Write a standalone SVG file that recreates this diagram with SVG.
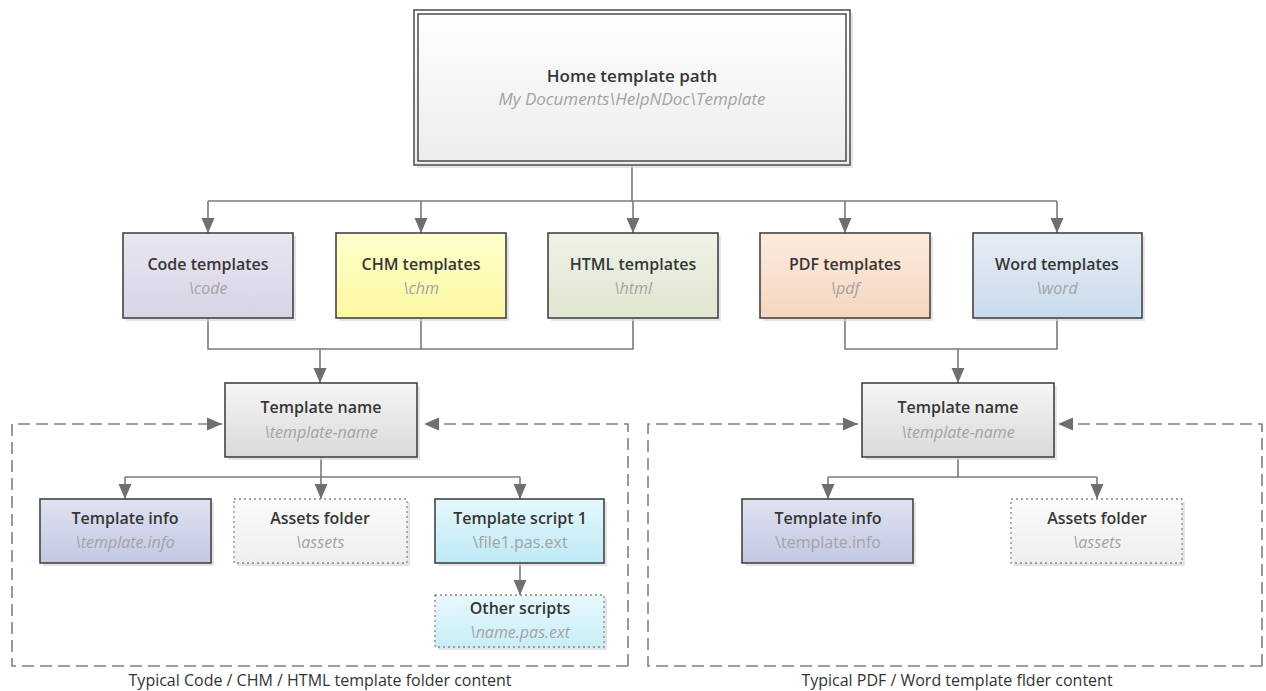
<svg xmlns="http://www.w3.org/2000/svg" width="1266" height="691" viewBox="0 0 1266 691">
<defs>
<linearGradient id="gHome" x1="0" y1="0" x2="0" y2="1"><stop offset="0" stop-color="#ffffff"/><stop offset="1" stop-color="#ececec"/></linearGradient>
<linearGradient id="gCode" x1="0" y1="0" x2="0" y2="1"><stop offset="0" stop-color="#e9e6f1"/><stop offset="1" stop-color="#d9d3e6"/></linearGradient>
<linearGradient id="gChm" x1="0" y1="0" x2="0" y2="1"><stop offset="0" stop-color="#ffffcc"/><stop offset="1" stop-color="#fcf8a2"/></linearGradient>
<linearGradient id="gHtml" x1="0" y1="0" x2="0" y2="1"><stop offset="0" stop-color="#eff2e6"/><stop offset="1" stop-color="#dfe6d1"/></linearGradient>
<linearGradient id="gPdf" x1="0" y1="0" x2="0" y2="1"><stop offset="0" stop-color="#fcebdf"/><stop offset="1" stop-color="#f5d6bf"/></linearGradient>
<linearGradient id="gWord" x1="0" y1="0" x2="0" y2="1"><stop offset="0" stop-color="#e6edf5"/><stop offset="1" stop-color="#c9dbec"/></linearGradient>
<linearGradient id="gName" x1="0" y1="0" x2="0" y2="1"><stop offset="0" stop-color="#f6f6f6"/><stop offset="1" stop-color="#d9d9d9"/></linearGradient>
<linearGradient id="gInfo" x1="0" y1="0" x2="0" y2="1"><stop offset="0" stop-color="#dfe2f1"/><stop offset="1" stop-color="#c3c8e3"/></linearGradient>
<linearGradient id="gAssets" x1="0" y1="0" x2="0" y2="1"><stop offset="0" stop-color="#fbfbfb"/><stop offset="1" stop-color="#eeeeee"/></linearGradient>
<linearGradient id="gScript" x1="0" y1="0" x2="0" y2="1"><stop offset="0" stop-color="#e6f8fc"/><stop offset="1" stop-color="#bde9f6"/></linearGradient>
<linearGradient id="gOther" x1="0" y1="0" x2="0" y2="1"><stop offset="0" stop-color="#e8f8fc"/><stop offset="1" stop-color="#c9eef8"/></linearGradient>
<marker id="arr" markerUnits="userSpaceOnUse" markerWidth="16" markerHeight="16" viewBox="0 0 16 16" refX="15" refY="8" orient="auto">
<path d="M0 1.5 L15 8 L0 14.5 Z" fill="#6f6f6f"/>
</marker>
</defs>
<style>
.box{stroke:#444;stroke-width:1.6}
.dot{stroke:#888;stroke-width:1.3;stroke-dasharray:2 3}
.sh{fill:#d8d8d8;opacity:0.7}
.t{font-family:"Open Sans","Noto Sans",sans-serif;font-size:16px;font-weight:600;fill:#363636;text-anchor:middle}
.s{font-family:"Open Sans","Noto Sans",sans-serif;font-size:16px;font-style:italic;fill:#a3a3a3;text-anchor:middle}
.sn{font-family:"Open Sans","Noto Sans",sans-serif;font-size:16px;fill:#a3a3a3;text-anchor:middle}
.cap{font-family:"Open Sans","Noto Sans",sans-serif;font-size:16px;fill:#333;text-anchor:middle}
.c{fill:none;stroke:#7a7a7a;stroke-width:1.6}
.d{fill:none;stroke:#808080;stroke-width:1.6;stroke-dasharray:12 6}
</style>

<g id="frames">
<path class="d" d="M628 666 H12 V424 H222" marker-end="url(#arr)"/>
<path class="d" d="M628 666 V424 H424" marker-end="url(#arr)"/>
<path class="d" d="M1262 666 H648 V424 H858" marker-end="url(#arr)"/>
<path class="d" d="M1262 666 V424 H1058" marker-end="url(#arr)"/>
</g>

<g id="connectors">
<path class="c" d="M632 165 V201"/>
<path class="c" d="M208 201 H1057"/>
<path class="c" d="M208 201 V233" marker-end="url(#arr)"/>
<path class="c" d="M421 201 V233" marker-end="url(#arr)"/>
<path class="c" d="M633 201 V233" marker-end="url(#arr)"/>
<path class="c" d="M845 201 V233" marker-end="url(#arr)"/>
<path class="c" d="M1057 201 V233" marker-end="url(#arr)"/>
<path class="c" d="M208 318 V349 H633 V318"/>
<path class="c" d="M421 318 V349"/>
<path class="c" d="M320 349 V383" marker-end="url(#arr)"/>
<path class="c" d="M845 318 V349 H1057 V318"/>
<path class="c" d="M958 349 V383" marker-end="url(#arr)"/>
<path class="c" d="M321 457 V499" marker-end="url(#arr)"/>
<path class="c" d="M125 477 H520"/>
<path class="c" d="M125 477 V499" marker-end="url(#arr)"/>
<path class="c" d="M520 477 V499" marker-end="url(#arr)"/>
<path class="c" d="M520 563 V595" marker-end="url(#arr)"/>
<path class="c" d="M958 457 V477"/>
<path class="c" d="M828 477 H1097"/>
<path class="c" d="M828 477 V499" marker-end="url(#arr)"/>
<path class="c" d="M1097 477 V499" marker-end="url(#arr)"/>
</g>

<g id="home">
<rect class="sh" x="417" y="13" width="436" height="155"/>
<rect x="414" y="10" width="436" height="155" fill="url(#gHome)" stroke="#555" stroke-width="1.6"/>
<rect x="418" y="14" width="428" height="147" fill="none" stroke="#555" stroke-width="1.6"/>
<text class="t" x="632" y="82" style="font-size:17px">Home template path</text>
<text class="s" x="632" y="105" style="font-size:17px">My Documents\HelpNDoc\Template</text>
</g>

<g id="code">
<rect class="sh" x="126" y="236" width="170" height="85"/>
<rect class="box" x="123" y="233" width="170" height="85" fill="url(#gCode)"/>
<text class="t" x="208" y="270">Code templates</text>
<text class="s" x="208" y="294">\code</text>
</g>
<g id="chm">
<rect class="sh" x="339" y="236" width="170" height="85"/>
<rect class="box" x="336" y="233" width="170" height="85" fill="url(#gChm)"/>
<text class="t" x="421" y="270">CHM templates</text>
<text class="s" x="421" y="294">\chm</text>
</g>
<g id="html">
<rect class="sh" x="551" y="236" width="170" height="85"/>
<rect class="box" x="548" y="233" width="170" height="85" fill="url(#gHtml)"/>
<text class="t" x="633" y="270">HTML templates</text>
<text class="s" x="633" y="294">\html</text>
</g>
<g id="pdf">
<rect class="sh" x="763" y="236" width="170" height="85"/>
<rect class="box" x="760" y="233" width="170" height="85" fill="url(#gPdf)"/>
<text class="t" x="845" y="270">PDF templates</text>
<text class="s" x="845" y="294">\pdf</text>
</g>
<g id="word">
<rect class="sh" x="976" y="236" width="169" height="85"/>
<rect class="box" x="973" y="233" width="169" height="85" fill="url(#gWord)"/>
<text class="t" x="1057" y="270">Word templates</text>
<text class="s" x="1057" y="294">\word</text>
</g>

<g id="name-left">
<rect class="sh" x="228" y="386" width="192" height="74"/>
<rect class="box" x="225" y="383" width="192" height="74" fill="url(#gName)"/>
<text class="t" x="321" y="413">Template name</text>
<text class="s" x="321" y="438">\template-name</text>
</g>
<g id="name-right">
<rect class="sh" x="865" y="386" width="192" height="74"/>
<rect class="box" x="862" y="383" width="192" height="74" fill="url(#gName)"/>
<text class="t" x="958" y="413">Template name</text>
<text class="s" x="958" y="438">\template-name</text>
</g>

<g id="info-left">
<rect class="sh" x="43" y="502" width="171" height="64"/>
<rect class="box" x="40" y="499" width="171" height="64" fill="url(#gInfo)"/>
<text class="t" x="125" y="524">Template info</text>
<text class="s" x="125" y="548">\template.info</text>
</g>
<g id="assets-left">
<rect class="sh" x="237" y="502" width="173" height="64" opacity="0.4"/>
<rect class="dot" x="234" y="499" width="173" height="64" fill="url(#gAssets)"/>
<text class="t" x="320" y="524">Assets folder</text>
<text class="s" x="320" y="548">\assets</text>
</g>
<g id="script1">
<rect class="sh" x="438" y="502" width="169" height="64"/>
<rect class="box" x="435" y="499" width="169" height="64" fill="url(#gScript)"/>
<text class="t" x="520" y="524">Template script 1</text>
<text class="sn" x="520" y="548">\file1.pas.ext</text>
</g>
<g id="other">
<rect class="sh" x="438" y="598" width="169" height="52" opacity="0.4"/>
<rect class="dot" x="435" y="595" width="169" height="52" fill="url(#gOther)"/>
<text class="t" x="520" y="614">Other scripts</text>
<text class="s" x="520" y="638">\name.pas.ext</text>
</g>

<g id="info-right">
<rect class="sh" x="745" y="502" width="171" height="64"/>
<rect class="box" x="742" y="499" width="171" height="64" fill="url(#gInfo)"/>
<text class="t" x="828" y="524">Template info</text>
<text class="sn" x="828" y="548">\template.info</text>
</g>
<g id="assets-right">
<rect class="sh" x="1014" y="502" width="171" height="64" opacity="0.4"/>
<rect class="dot" x="1011" y="499" width="171" height="64" fill="url(#gAssets)"/>
<text class="t" x="1097" y="524">Assets folder</text>
<text class="s" x="1097" y="548">\assets</text>
</g>

<g id="captions">
<text class="cap" x="320" y="686">Typical Code / CHM / HTML template folder content</text>
<text class="cap" x="957" y="686">Typical PDF / Word template flder content</text>
</g>
</svg>
